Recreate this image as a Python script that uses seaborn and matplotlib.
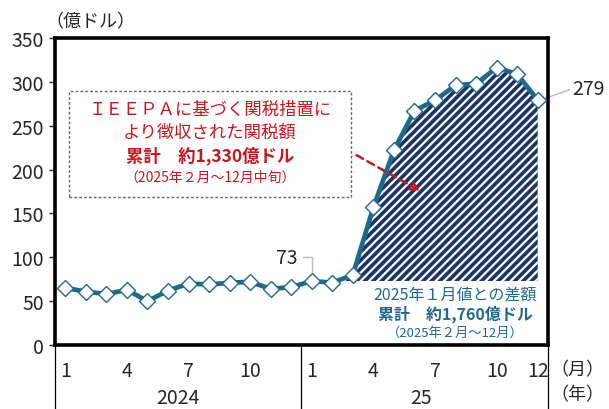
import numpy as np
import pandas as pd
import matplotlib
matplotlib.use('Agg')
import matplotlib.pyplot as plt
import seaborn as sns
from matplotlib.patches import Rectangle

sns.set_style('white')
plt.rcParams['font.family'] = ['Noto Sans CJK JP', 'DejaVu Sans']
plt.rcParams['hatch.linewidth'] = 1.6

# データ（億ドル）
months = list(range(1, 13))
values_2024 = [65, 61, 58, 63, 50, 62, 70, 69, 71, 72, 64, 66]
values_2025 = [73, 71, 80, 157, 222, 267, 279, 296, 298, 316, 309, 279]
tick_months = [1, 4, 7, 10]
year_labels = ['2024', '25']
base_value = values_2025[0]  # 2025年1月値

teal = '#1D6A8A'
navy = '#1C3366'
red = '#C8161D'

df = pd.DataFrame({
    'idx': np.arange(24),
    'value': values_2024 + values_2025,
})

fig = plt.figure(figsize=(6.09, 4.10), dpi=100)
ax = fig.add_axes([0.0903, 0.156, 0.8095, 0.749])

# 2025年1月値との差額（斜線）
x25 = np.arange(12, 24)
y25 = np.array(values_2025)
ax.fill_between(x25, base_value, y25, where=y25 >= base_value, interpolate=True,
                facecolor=navy, edgecolor='white', hatch='////', linewidth=0, zorder=2)

sns.lineplot(data=df, x='idx', y='value', ax=ax, color=teal, linewidth=3.4,
             marker='D', markersize=8.5, markerfacecolor='white',
             markeredgecolor=teal, markeredgewidth=1, zorder=3)

ax.set_xlim(-0.5, 23.5)
ax.set_ylim(0, 350)
ax.set_yticks(range(0, 351, 50))
ax.tick_params(axis='y', labelsize=14, length=4, width=1, direction='out', left=True, pad=4)

xt = [m - 1 for m in tick_months] + [12 + m - 1 for m in tick_months] + [23]
xl = [str(m) for m in tick_months] * 2 + ['12']
ax.set_xticks(xt)
ax.set_xticklabels(xl)
ax.tick_params(axis='x', labelsize=14, length=0, pad=11)
ax.set_xlabel('')
ax.set_ylabel('')

for s in ax.spines.values():
    s.set_linewidth(2.6)
    s.set_color('black')

# 年の区切り線
tr = ax.get_xaxis_transform()
for xv in [-0.5, 11.5, 23.5]:
    ax.plot([xv, xv], [0, -0.25], transform=tr, color='black', linewidth=0.9, clip_on=False)
ax.text(5.5, -0.172, year_labels[0], transform=tr, ha='center', va='center', fontsize=14)
ax.text(17.3, -0.172, year_labels[1], transform=tr, ha='center', va='center', fontsize=14)

fig.text(577 / 609, 1 - 370 / 410, '（月）', ha='center', va='center', fontsize=13)
fig.text(577 / 609, 1 - 395 / 410, '（年）', ha='center', va='center', fontsize=13)
fig.text(90 / 609, 1 - 22 / 410, '（億ドル）', ha='center', va='center', fontsize=13)

# 値ラベル
ax.plot([11.55, 12, 12], [base_value + 27, base_value + 27, base_value + 10],
        color='#BBBBBB', linewidth=1, zorder=1)
ax.text(11.3, base_value + 27, str(base_value), ha='right', va='center', fontsize=14)
last = values_2025[-1]
ax.plot([23.35, 24.55], [last + 2, last + 12], color='#BBBBBB', linewidth=1, clip_on=False)
ax.text(24.7, last + 13, str(last), ha='left', va='center', fontsize=14)

# IEEPA 注記
ax.add_patch(Rectangle((0.18, 168.6), 13.72, 121.4, fill=False, edgecolor='#666666',
                       linestyle=(0, (2, 1.5)), linewidth=1, zorder=4))
ax.text(7.05, 269.5, 'ＩＥＥＰＡに基づく関税措置に', ha='center', va='center', fontsize=12.5, color=red)
ax.text(7.05, 243, 'より徴収された関税額', ha='center', va='center', fontsize=12.5, color=red)
ax.text(7.05, 217, '累計　約1,330億ドル', ha='center', va='center', fontsize=12.5, color=red,
        fontweight='bold')
ax.text(7.05, 191.5, '（2025年２月～12月中旬）', ha='center', va='center', fontsize=10, color=red)
ax.annotate('', xy=(17.4, 174), xytext=(14.06, 218),
            arrowprops=dict(arrowstyle='->', color=red, linestyle=(0, (3, 2)), linewidth=1.8,
                            mutation_scale=14), zorder=5)

# 差額注記
ax.text(19.0, 58.5, '2025年１月値との差額', ha='center', va='center', fontsize=11.5, color=teal)
ax.text(19.0, 36.7, '累計　約1,760億ドル', ha='center', va='center', fontsize=11.5, color=teal,
        fontweight='bold')
ax.text(19.0, 15, '（2025年２月～12月）', ha='center', va='center', fontsize=9.5, color=teal)

fig.savefig('out.png', dpi=100)
